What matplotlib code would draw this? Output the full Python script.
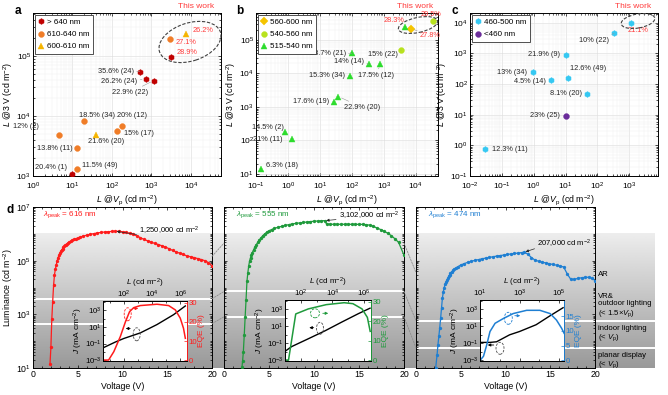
import numpy as np
import matplotlib
matplotlib.use("Agg")
import matplotlib.pyplot as plt
from matplotlib.patches import Ellipse, FancyArrowPatch, ConnectionPatch
from matplotlib.ticker import LogLocator, NullFormatter, MultipleLocator

plt.rcParams['font.family'] = ['Liberation Sans', 'DejaVu Sans']
plt.rcParams['mathtext.fontset'] = 'custom'
plt.rcParams['mathtext.rm'] = 'Liberation Sans'
plt.rcParams['mathtext.it'] = 'Liberation Sans:italic'
plt.rcParams['mathtext.bf'] = 'Liberation Sans:bold'
plt.rcParams['axes.linewidth'] = 0.7
plt.rcParams['font.size'] = 6

RED_WORK = '#ff3b3b'

# ---------------- panel a data ----------------
a_r640_x = [510, 710, 1150, 9.5, 3100]
a_r640_y = [5.5e4, 4.1e4, 3.9e4, 1.1e3, 9.5e4]
a_r640_lab = ['35.6% (24)', '26.2% (24)', '22.9% (22)', '20.4% (1)', '28.9%']
a_r610_x = [4.6, 20, 12.7, 13, 182, 131, 2900]
a_r610_y = [4.9e3, 8.3e3, 2.9e3, 1.3e3, 6.8e3, 5.6e3, 1.95e5]
a_r610_lab = ['12% (2)', '18.5% (34)', '13.8% (11)', '11.5% (49)', '20% (12)', '15% (17)', '27.1%']
a_r600_x = [39, 7700]
a_r600_y = [4.9e3, 2.3e5]
a_r600_lab = ['21.6% (20)', '26.2%']

# ---------------- panel b data ----------------
b_y560_x = [7100]
b_y560_y = [2.2e5]
b_y560_lab = ['27.8%']
b_g540_x = [3.4e4, 3500]
b_g540_y = [3.8e5, 5e4]
b_g540_lab = ['29.5%', '15% (22)']
b_g515_x = [4800, 100, 345, 780, 91, 27, 38, 0.79, 1.3, 0.144]
b_g515_y = [2.4e5, 4e4, 1.9e4, 1.9e4, 8.5e3, 1.45e3, 2.05e3, 174, 110, 13.8]
b_g515_lab = ['28.3%', '28.7% (21)', '14% (14)', '17.5% (12)', '15.3% (34)', '17.6% (19)',
              '22.9% (20)', '14.5% (2)', '21% (11)', '6.3% (18)']

# ---------------- panel c data ----------------
c_b460_x = [1100, 330, 10, 12, 0.93, 3.4, 47, 0.03]
c_b460_y = [1e4, 4.5e3, 910, 160, 245, 140, 48, 0.74]
c_b460_lab = ['21.1%', '10% (22)', '21.9% (9)', '12.6% (49)', '13% (34)', '4.5% (14)',
              '8.1% (20)', '12.3% (11)']
c_v460_x = [10]
c_v460_y = [9.3]
c_v460_lab = ['23% (25)']

# ---------------- panel d data ----------------
red_v = [1.9, 2.0, 2.1, 2.2, 2.3, 2.4, 2.5, 2.6, 2.7, 2.8, 2.9, 3.0, 3.1, 3.2, 3.3, 3.4, 3.5,
         3.6, 3.7, 3.8, 3.9, 4.0, 4.2, 4.4, 4.6, 4.8, 5.0, 5.3, 5.6, 6.0, 6.4, 6.8, 7.2, 7.6,
         8.0, 8.4, 8.8, 9.2, 9.6, 10.0, 10.4, 10.8, 11.2, 11.6, 12.0, 12.4, 12.8, 13.2, 13.6,
         14.0, 14.4, 14.8, 15.2, 15.6, 16.0, 16.4, 16.8, 17.2, 17.6, 18.0, 18.4, 18.8, 19.2,
         19.6, 20.0]
red_lum = [14, 60, 650, 3000, 1.2e4, 3e4, 4.8e4, 7e4, 1.0e5, 1.3e5, 1.6e5, 1.9e5, 2.2e5, 2.5e5,
           2.8e5, 3.1e5, 3.4e5, 3.7e5, 4.0e5, 4.3e5, 4.5e5, 4.8e5, 5.3e5, 5.8e5, 6.2e5, 6.6e5,
           7.0e5, 7.6e5, 8.2e5, 8.9e5, 9.6e5, 1.02e6, 1.08e6, 1.13e6, 1.17e6, 1.2e6, 1.23e6,
           1.25e6, 1.24e6, 1.2e6, 1.13e6, 1.05e6, 9.5e5, 8.4e5, 7.2e5, 6.2e5, 5.5e5, 4.9e5,
           4.4e5, 4.0e5, 3.6e5, 3.2e5, 2.8e5, 2.4e5, 2.1e5, 1.9e5, 1.7e5, 1.5e5, 1.4e5, 1.3e5,
           1.2e5, 1.1e5, 1.0e5, 8.5e4, 6.5e4]
green_v = [2.0, 2.07, 2.15, 2.25, 2.35, 2.45, 2.55, 2.65, 2.75, 2.85, 2.95, 3.05, 3.15, 3.3,
           3.45, 3.6, 3.75, 3.9, 4.1, 4.3, 4.5, 4.75, 5.0, 5.3, 5.6, 6.0, 6.4, 6.8, 7.2, 7.6,
           8.0, 8.4, 8.8, 9.2, 9.6, 10.0, 10.4, 10.8, 11.2, 11.4, 11.8, 12.2, 12.6, 13.0, 13.4,
           13.8, 14.2, 14.6, 15.0, 15.4, 15.8, 16.2, 16.6, 17.0, 17.4, 17.8, 18.2, 18.6, 19.0,
           19.4, 20.0]
green_lum = [11, 19, 40, 170, 800, 3500, 1.7e4, 3.6e4, 6.5e4, 1.0e5, 1.3e5, 1.6e5, 2.0e5,
             2.6e5, 3.3e5, 4.0e5, 4.8e5, 5.8e5, 7e5, 8.5e5, 9.8e5, 1.15e6, 1.3e6, 1.45e6,
             1.6e6, 1.75e6, 1.9e6, 2.05e6, 2.2e6, 2.35e6, 2.45e6, 2.55e6, 2.65e6, 2.75e6,
             2.85e6, 2.95e6, 3.0e6, 3.05e6, 3.1e6, 2.3e6, 2.28e6, 2.27e6, 2.27e6, 2.27e6,
             2.27e6, 2.27e6, 2.26e6, 2.26e6, 2.25e6, 2.25e6, 2.2e6, 2.1e6, 1.9e6, 1.65e6,
             1.45e6, 1.25e6, 1.05e6, 8.5e5, 6.5e5, 4.8e5, 1.6e5]
blue_v = [2.2, 2.35, 2.45, 2.55, 2.65, 2.75, 2.85, 2.95, 3.05, 3.15, 3.25, 3.35, 3.45, 3.55,
          3.65, 3.75, 3.85, 4.0, 4.15, 4.3, 4.5, 4.7, 5.0, 5.4, 5.8, 6.2, 6.6, 7.0, 7.4, 7.8,
          8.2, 8.6, 9.0, 9.4, 9.8, 10.2, 10.6, 11.0, 11.4, 11.8, 12.1, 12.5, 12.9, 13.3, 13.7,
          14.1, 14.5, 14.9, 15.3, 15.7, 16.1, 16.5, 16.9, 17.3, 17.7, 18.1, 18.5, 18.9, 19.3,
          19.7, 20.0]
blue_lum = [10, 30, 72, 150, 310, 700, 1700, 4000, 7000, 1.0e4, 1.3e4, 1.6e4, 1.9e4, 2.2e4,
            2.6e4, 3.0e4, 3.4e4, 3.9e4, 4.4e4, 4.9e4, 5.5e4, 6.0e4, 6.9e4, 7.8e4, 8.7e4,
            9.5e4, 1.03e5, 1.1e5, 1.18e5, 1.25e5, 1.32e5, 1.4e5, 1.48e5, 1.55e5, 1.62e5,
            1.7e5, 1.78e5, 1.85e5, 1.92e5, 2.0e5, 2.07e5, 1.75e5, 1.3e5, 1.05e5, 9.5e4, 8.8e4,
            8.2e4, 7.7e4, 7.2e4, 6.8e4, 6.3e4, 5.8e4, 3.2e4, 2.0e4, 2.0e4, 2.2e4, 2.3e4, 2.4e4,
            2.4e4, 2.2e4, 1.8e4]
peaks = [(9.2, 1.25e6, '1,250,000'), (11.2, 3.1e6, '3,102,000'), (12.1, 2.07e5, '207,000')]
# luminance thresholds per panel (top one only shown as a dashed link)
thresholds = [[1.45e5, 3.8e3, 450], [4.5e5, 7.1e3, 810], [3.6e4, 575, 56]]

# inset data: J vs L and EQE vs L
red_jl = [3.2, 25, 95, 1450, 2.2e4, 3.4e5, 2.3e6]
red_j = [0.03, 0.155, 0.4, 1.9, 19, 300, 3300]
red_el = [3.2, 8.1, 19, 55, 126, 250, 490, 1450, 2.2e4, 1.5e5, 4.5e5, 1.0e6, 1.7e6, 2.3e6]
red_eqe = [0, 0, 4.4, 12.3, 20, 25.4, 27.5, 28.6, 29.3, 28.6, 26.3, 22, 16.7, 11.4]
green_jl = [9.5, 25, 290, 3400, 3.9e4, 4.5e5, 2.45e6]
green_j = [0.011, 0.04, 0.34, 3.0, 32, 320, 1400]
green_el = [9.5, 16, 46, 290, 4000, 5.5e4, 2.0e5, 7.6e5, 1.66e6, 2.5e6]
green_eqe = [0, 0, 23.8, 26.4, 28.6, 29.6, 29.1, 26.4, 22, 14.8]
blue_jl = [10, 32, 69, 148, 316, 1000, 6900, 3.2e4, 1.6e5]
blue_j = [0.126, 0.126, 0.15, 0.39, 1.0, 2.45, 15.5, 155, 1600]
blue_el = [10, 15, 22, 32, 58, 150, 480, 2300, 1.07e4, 3.5e4, 7.4e4, 1.35e5, 1.8e5]
blue_eqe = [0, 1.4, 5.3, 9.8, 12.6, 14.2, 15.9, 17, 17, 15.9, 13.7, 10.9, 9.2]

W, H = 668, 395
fig = plt.figure(figsize=(W / 100, H / 100), dpi=100)


def px_axes(l, t, r, b):
    return fig.add_axes([l / W, 1 - b / H, (r - l) / W, (b - t) / H])


def ftext(x, y, s, **kw):
    return fig.text(x / W, 1 - y / H, s, **kw)


def px_ellipse(x, y, w, h, ang, color='0.25', lw=0.8):
    e = Ellipse((x / 100, (H - y) / 100), w / 100, h / 100, angle=ang, fill=False,
                ls=(0, (3, 1.5)), ec=color, lw=lw, transform=fig.dpi_scale_trans, zorder=20)
    fig.add_artist(e)


def px_arrow(x0, y0, x1, y1, color):
    a = FancyArrowPatch((x0 / 100, (H - y0) / 100), (x1 / 100, (H - y1) / 100),
                        arrowstyle='-|>', mutation_scale=4, lw=0.6, color=color,
                        transform=fig.dpi_scale_trans, zorder=20)
    fig.add_artist(a)


def setup_log(ax, xlim, ylim, xdec, ydec):
    ax.set_xscale('log')
    ax.set_yscale('log')
    ax.set_xticks([10.0 ** k for k in xdec])
    ax.set_yticks([10.0 ** k for k in ydec])
    for axis in (ax.xaxis, ax.yaxis):
        axis.set_minor_locator(LogLocator(base=10, subs=np.arange(2, 10), numticks=100))
        axis.set_minor_formatter(NullFormatter())
    ax.set_xlim(xlim)
    ax.set_ylim(ylim)
    ax.tick_params(which='both', direction='in', top=True, right=True, labelsize=6,
                   pad=1.5, width=0.5)
    ax.tick_params(axis='x', which='both', pad=3.5)
    ax.tick_params(which='major', length=2.5)
    ax.tick_params(which='minor', length=1.3)
    ax.grid(True, which='major', color='0.86', lw=0.4)
    ax.grid(True, which='minor', color='0.93', lw=0.3)
    ax.set_axisbelow(True)
    ax.set_xlabel(r'$L$ @$V_\mathrm{p}$ (cd m$^{-2}$)', fontsize=6.3, labelpad=0.5)
    ax.set_ylabel(r'$L$ @3 V (cd m$^{-2}$)', fontsize=6.3, labelpad=1)


def scatter_group(ax, xs, ys, labs, place, marker, color, name):
    ax.plot(xs, ys, ls='none', marker=marker, ms=4.2, mfc=color, mec=color, mew=0.3,
            label=name, zorder=3)
    for x, y, s in zip(xs, ys, labs):
        dx, dy, ha, lead = place[s]
        col = RED_WORK if '(' not in s else '0.15'
        ap = dict(arrowstyle='-', color='0.6', lw=0.4, shrinkA=0, shrinkB=2.5) if lead else None
        ax.annotate(s, (x, y), xytext=(dx, dy), textcoords='offset pixels', ha=ha,
                    va='center', fontsize=5.3, color=col, arrowprops=ap, zorder=4)


def legend(ax):
    ax.legend(loc='upper left', fontsize=5.8, handlelength=0.7, handletextpad=0.3,
              borderpad=0.45, labelspacing=0.55, fancybox=False, edgecolor='0.2',
              framealpha=1, borderaxespad=0.25).get_frame().set_linewidth(0.6)


# ---------------- panel a ----------------
ax_a = px_axes(33, 13, 221, 176)
setup_log(ax_a, (1, 5.8e4), (1e3, 5.2e5), range(0, 5), range(3, 6))
place_a = {'35.6% (24)': (-6, 0, 'right', True), '26.2% (24)': (-8, -2, 'right', True),
           '22.9% (22)': (-6, -12, 'right', True), '20.4% (1)': (-5, 6, 'right', False),
           '28.9%': (6, 5, 'left', False), '12% (2)': (-33, 8, 'center', False),
           '18.5% (34)': (13, 5, 'center', False), '13.8% (11)': (-4, 0, 'right', False),
           '11.5% (49)': (5, 4, 'left', False), '20% (12)': (10, 11, 'center', False),
           '15% (17)': (7, -2, 'left', False), '27.1%': (6, -4, 'left', False),
           '21.6% (20)': (-8, -7, 'left', False), '26.2%': (6, 4, 'left', False)}
scatter_group(ax_a, a_r640_x, a_r640_y, a_r640_lab, place_a, 'h', '#c00000', '> 640 nm')
scatter_group(ax_a, a_r610_x, a_r610_y, a_r610_lab, place_a, 'o', '#f07d28', '610-640 nm')
scatter_group(ax_a, a_r600_x, a_r600_y, a_r600_lab, place_a, '^', '#f5b400', '600-610 nm')
legend(ax_a)
px_ellipse(190, 42, 64, 38, 18)
ftext(196, 6, 'This work', color=RED_WORK, fontsize=6, ha='center', va='center')
ftext(18, 11, 'a', fontsize=8.5, fontweight='bold', ha='center', va='center')

# ---------------- panel b ----------------
ax_b = px_axes(256, 13, 438, 176)
setup_log(ax_b, (0.1, 5e4), (8.7, 6.4e5), range(-1, 5), range(1, 6))
place_b = {'28.3%': (-1, 7, 'right', False), '29.5%': (-2, 6, 'center', False),
           '27.8%': (9, -7, 'left', True), '28.7% (21)': (-6, 0, 'right', True),
           '15% (22)': (-3, -4, 'right', True), '14% (14)': (-5, 3, 'right', True),
           '17.5% (12)': (-4, -11, 'center', True), '15.3% (34)': (-5, 0, 'right', False),
           '17.6% (19)': (-5, 0, 'right', False), '22.9% (20)': (6, -11, 'left', True),
           '14.5% (2)': (-1, 5, 'right', False), '21% (11)': (-9, 0, 'right', False),
           '6.3% (18)': (5, 4, 'left', False)}
scatter_group(ax_b, b_y560_x, b_y560_y, b_y560_lab, place_b, 'D', '#f5c400', '560-600 nm')
scatter_group(ax_b, b_g540_x, b_g540_y, b_g540_lab, place_b, 'o', '#b8e21e', '540-560 nm')
scatter_group(ax_b, b_g515_x, b_g515_y, b_g515_lab, place_b, '^', '#2ddc2d', '515-540 nm')
legend(ax_b)
px_ellipse(418, 25, 40, 15, 12)
ftext(415, 6, 'This work', color=RED_WORK, fontsize=6, ha='center', va='center')
ftext(240, 11, 'b', fontsize=8.5, fontweight='bold', ha='center', va='center')

# ---------------- panel c ----------------
ax_c = px_axes(470, 13, 658, 176)
setup_log(ax_c, (1e-2, 8e3), (1e-1, 2.1e4), range(-2, 4), range(-1, 5))
place_c = {'21.1%': (-3, -8, 'left', False), '10% (22)': (-5, -7, 'right', True),
           '21.9% (9)': (-6, 0, 'right', False), '12.6% (49)': (2, 9, 'left', False),
           '13% (34)': (-6, 0, 'right', False), '4.5% (14)': (-5, -2, 'right', False),
           '8.1% (20)': (-5, 0, 'right', False), '12.3% (11)': (7, 0, 'left', False),
           '23% (25)': (-6, 0, 'right', False)}
scatter_group(ax_c, c_b460_x, c_b460_y, c_b460_lab, place_c, 'h', '#35c8f2', '460-500 nm')
scatter_group(ax_c, c_v460_x, c_v460_y, c_v460_lab, place_c, 'o', '#6a2c9a', '<460 nm')
legend(ax_c)
px_ellipse(638, 21, 34, 14, 10)
ftext(633, 6, 'This work', color=RED_WORK, fontsize=6, ha='center', va='center')
ftext(455, 11, 'c', fontsize=8.5, fontweight='bold', ha='center', va='center')

# ---------------- panel d ----------------
bg = px_axes(33, 233, 655, 368)
bg.imshow(np.linspace(0.93, 0.6, 256)[:, None], cmap='gray', vmin=0, vmax=1,
          aspect='auto', extent=[0, 1, 0, 1])
bg.axis('off')
bg.set_zorder(0.5)

boxes = [(33, 207, 212, 368), (224, 207, 404, 368), (416, 207, 595, 368)]
colors = ['#ff1c1c', '#1f9a3c', '#1f7fd2']
curves = [(red_v, red_lum), (green_v, green_lum), (blue_v, blue_lum)]
lam = ['616', '555', '474']
lam_x = [43, 236, 428]
d_axes = []
for i, (box, col, (v, lum)) in enumerate(zip(boxes, colors, curves)):
    ax = px_axes(*box)
    ax.set_zorder(1)
    ax.patch.set_visible(False)
    ax.set_yscale('log')
    ax.set_yticks([1e1, 1e3, 1e5, 1e7])
    ax.yaxis.set_minor_locator(LogLocator(base=10, subs=np.arange(1, 10), numticks=100))
    ax.yaxis.set_minor_formatter(NullFormatter())
    ax.set_xticks([0, 5, 10, 15, 20])
    ax.xaxis.set_minor_locator(MultipleLocator(1))
    ax.set_xlim(0, 20)
    ax.set_ylim(10, 1e7)
    ax.tick_params(which='both', direction='in', top=True, right=True, labelsize=6.3,
                   pad=1.5, width=0.5)
    ax.tick_params(which='major', length=2.5)
    ax.tick_params(which='minor', length=1.3)
    if i > 0:
        ax.tick_params(labelleft=False)
    else:
        ax.set_ylabel(r'Luminance (cd m$^{-2}$)', fontsize=6.3, labelpad=1)
    ax.set_xlabel('Voltage (V)', fontsize=6.3, labelpad=2)
    for t in thresholds[i][1:]:
        ax.axhline(t, color='white', lw=1.4, zorder=1)
    ax.plot(v, lum, color=col, lw=0.9, marker='o', ms=2.4, mew=0, zorder=3)
    pv, pl, ptxt = peaks[i]
    off = [(24, 0), (14, 5), (13, 8)][i]
    ax.annotate(ptxt + r' cd m$^{-2}$', (pv, pl), xytext=off, textcoords='offset pixels',
                ha='left', va='center', fontsize=5.5,
                arrowprops=dict(arrowstyle='-|>', color='0.15', lw=0.5, mutation_scale=4,
                                shrinkA=0, shrinkB=1, relpos=(0, 0.2)), zorder=4)
    ftext(lam_x[i], 215, r'$\lambda_\mathrm{peak}$ = ' + lam[i] + ' nm', color=col,
          fontsize=5.8, ha='left', va='center')
    d_axes.append(ax)

# white lines of the last panel run on into the label column
for t in thresholds[2][1:]:
    d_axes[2].plot([1, (655 - 416) / (595 - 416)], [t, t], color='white', lw=1.4,
                   transform=d_axes[2].get_yaxis_transform(), clip_on=False, zorder=1)

# dashed links between panels
for i in range(2):
    for k in range(3):
        con = ConnectionPatch(xyA=(20, thresholds[i][k]), coordsA=d_axes[i].transData,
                              xyB=(0, thresholds[i + 1][k]), coordsB=d_axes[i + 1].transData,
                              color='0.55', lw=0.6, ls=(0, (2, 1.5)), zorder=2)
        fig.add_artist(con)

ftext(598, 275, 'AR', fontsize=5.6, va='center')
ftext(598, 306, 'VR&\noutdoor lighting\n' + r'(< 1.5$\times$$V_\mathrm{p}$)', fontsize=5.6,
      va='center', linespacing=1.15)
ftext(598, 334, 'indoor lighting\n' + r'(< $V_\mathrm{p}$)', fontsize=5.6, va='center',
      linespacing=1.05)
ftext(598, 361, 'planar display\n' + r'(< $V_\mathrm{p}$)', fontsize=5.6, va='center',
      linespacing=1.05)
ftext(10, 210, 'd', fontsize=8.5, fontweight='bold', ha='center', va='center')

# ---------------- insets ----------------
insets = [
    ((103, 301, 187, 361), (10 ** 0.51, 10 ** 6.48), [2, 4, 6], (-0.5, 31), [0, 10, 20, 30],
     red_jl, red_j, red_el, red_eqe),
    ((285, 300, 371, 361), (10 ** 0.98, 10 ** 6.45), [2, 4, 6], (-0.5, 31), [0, 10, 20, 30],
     green_jl, green_j, green_el, green_eqe),
    ((480, 300, 564, 361), (10 ** 1.0, 10 ** 5.25), [1, 3, 5], (-0.2, 20.5), [0, 5, 10, 15],
     blue_jl, blue_j, blue_el, blue_eqe),
]
for i, (box, xl, xdec, el_lim, eticks, jl, jv, el, ev) in enumerate(insets):
    col = colors[i]
    ax = px_axes(*box)
    ax.set_zorder(5)
    ax.set_facecolor('white')
    ax.set_xscale('log')
    ax.set_yscale('log')
    ax.set_xticks([10.0 ** k for k in xdec])
    ax.xaxis.set_minor_locator(LogLocator(base=10, subs=(1.0,), numticks=20))
    ax.xaxis.set_minor_formatter(NullFormatter())
    ax.set_yticks([1e-3, 1e-1, 1e1, 1e3])
    ax.yaxis.set_minor_locator(LogLocator(base=10, subs=(1.0,), numticks=20))
    ax.yaxis.set_minor_formatter(NullFormatter())
    ax.set_xlim(xl)
    ax.set_ylim(8e-4, 1.3e4)
    ax.plot(jl, jv, color='black', lw=1.0)
    ax.tick_params(which='both', direction='in', labelsize=5.6, pad=0.8, width=0.5,
                   top=True, bottom=True, labeltop=True, labelbottom=False)
    ax.tick_params(which='major', length=2)
    ax.tick_params(which='minor', length=1.2)
    ax.xaxis.set_label_position('top')
    ax.set_xlabel(r'$L$ (cd m$^{-2}$)', fontsize=5.8, labelpad=2.5)
    ax.set_ylabel(r'$J$ (mA cm$^{-2}$)', fontsize=6, labelpad=0.5)
    ax2 = ax.twinx()
    ax2.set_zorder(6)
    ax2.patch.set_visible(False)
    ax2.plot(el, ev, color=col, lw=1.1)
    ax2.set_ylim(el_lim)
    ax2.set_yticks(eticks)
    ax2.tick_params(direction='in', labelsize=5.6, pad=1, width=0.5, length=2, colors=col)
    ax2.spines['right'].set_color(col)
    ax2.set_ylabel('EQE (%)', color=col, fontsize=6, labelpad=1)

# little ellipses and arrows in the insets
px_ellipse(127.7, 314.3, 7, 13, 0, colors[0], 0.6)
px_arrow(131, 308.5, 141, 308.5, colors[0])
px_ellipse(136.7, 334.3, 7, 13, 0, '0.3', 0.6)
px_arrow(133, 328.5, 123, 328.5, 'black')
px_ellipse(315, 313.3, 9, 9, 0, colors[1], 0.6)
px_arrow(320, 313.3, 331, 313.3, colors[1])
px_ellipse(320, 328.3, 7, 12, 0, '0.3', 0.6)
px_arrow(316.5, 327.7, 306.5, 327.7, 'black')
px_ellipse(508.3, 318.3, 8, 12, 0, colors[2], 0.6)
px_arrow(512, 315.7, 523, 315.7, colors[2])
px_ellipse(500, 348.3, 8, 12, 0, '0.3', 0.6)
px_arrow(496.5, 345, 485, 345, 'black')

fig.savefig('out.png', dpi=100)
